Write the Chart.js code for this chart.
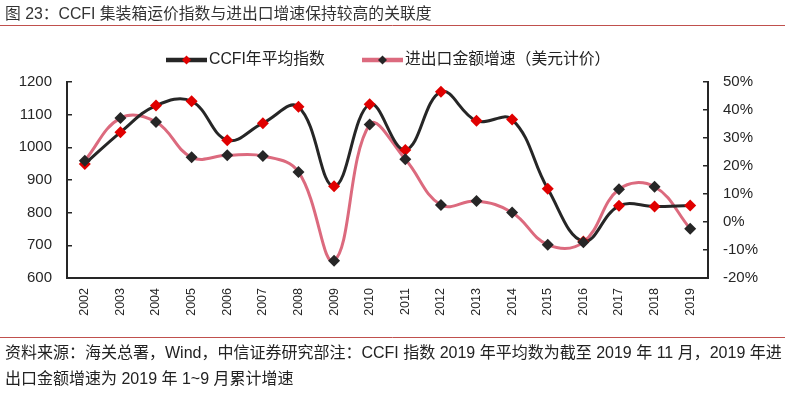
<!DOCTYPE html>
<html>
<head>
<meta charset="utf-8">
<script src="https://cdn.jsdelivr.net/npm/chart.js@4.4.1/dist/chart.umd.min.js"></script>
<style>
  html, body { margin: 0; padding: 0; background: #fff; }
  #wrap { position: relative; width: 803px; height: 393px; }
</style>
</head>
<body>
<div id="wrap"><canvas id="ccfi_chart" width="803" height="393"></canvas></div>
<script>
// chart values
const years = ['2002', '2003', '2004', '2005', '2006', '2007', '2008', '2009', '2010',
               '2011', '2012', '2013', '2014', '2015', '2016', '2017', '2018', '2019'];
const ccfiAvg = [949, 1046, 1128, 1141, 1022, 1074, 1124, 881, 1132,
                 992, 1170, 1081, 1085, 873, 712, 821, 819, 822];
const tradeGrowth = [21.9, 37.1, 35.7, 23.1, 23.8, 23.6, 17.9, -13.8, 34.8,
                     22.4, 6.1, 7.5, 3.4, -8.1, -7.2, 11.7, 12.6, -2.4];
const leftTicks = [600, 700, 800, 900, 1000, 1100, 1200];
const rightTicks = [-20, -10, 0, 10, 20, 30, 40, 50];

const titleText = '图 23：CCFI 集装箱运价指数与进出口增速保持较高的关联度';
const legendNames = ['CCFI年平均指数', '进出口金额增速（美元计价）'];
const noteLines = [
    '资料来源：海关总署，Wind，中信证券研究部注：CCFI 指数 2019 年平均数为截至 2019 年 11 月，2019 年进',
    '出口金额增速为 2019 年 1~9 月累计增速'
];

const DARK = '#262626';
const RED = '#e00000';
const PINK = '#dc6a7e';
const RULE = '#c0504d';
const FONT = '"Liberation Sans", Arial, "Noto Sans CJK SC", sans-serif';

// title, rules, legend and footnote
const pagePlugin = {
    id: 'pageDecor',
    beforeDraw(chart) {
        const ctx = chart.ctx;
        ctx.save();
        ctx.fillStyle = '#fff';
        ctx.fillRect(0, 0, chart.width, chart.height);
        ctx.restore();
    },
    afterDraw(chart) {
        const ctx = chart.ctx;
        ctx.save();
        ctx.fillStyle = '#333';
        ctx.textBaseline = 'middle';
        ctx.font = '15.8px ' + FONT;
        ctx.fillText(titleText, 5, 15);

        ctx.strokeStyle = RULE;
        ctx.lineWidth = 1;
        ctx.beginPath();
        ctx.moveTo(0, 25.5); ctx.lineTo(785, 25.5);
        ctx.moveTo(0, 337.5); ctx.lineTo(785, 337.5);
        ctx.stroke();

        // legend
        const items = [
            { x0: 166, x1: 207, line: DARK, dot: RED, text: legendNames[0] },
            { x0: 362, x1: 403, line: PINK, dot: DARK, text: legendNames[1] }
        ];
        items.forEach(it => {
            ctx.strokeStyle = it.line;
            ctx.lineWidth = 4.5;
            ctx.beginPath();
            ctx.moveTo(it.x0, 60); ctx.lineTo(it.x1, 60);
            ctx.stroke();
            const cx = (it.x0 + it.x1) / 2, r = 4.5;
            ctx.fillStyle = it.dot;
            ctx.beginPath();
            ctx.moveTo(cx, 60 - r); ctx.lineTo(cx + r, 60);
            ctx.lineTo(cx, 60 + r); ctx.lineTo(cx - r, 60);
            ctx.closePath();
            ctx.fill();
            ctx.fillStyle = '#222';
            ctx.font = '15.8px ' + FONT;
            ctx.fillText(it.text, it.x1 + 2, 60);
        });

        ctx.fillStyle = '#222';
        ctx.font = '16px ' + FONT;
        ctx.fillText(noteLines[0], 5, 354, 780);
        ctx.fillText(noteLines[1], 5, 380);
        ctx.restore();
    }
};

const ctxChart = document.getElementById('ccfi_chart').getContext('2d');

new Chart(ctxChart, {
    type: 'line',
    data: {
        labels: years,
        datasets: [
            {
                label: legendNames[1],
                data: tradeGrowth,
                yAxisID: 'y1',
                borderColor: PINK,
                borderWidth: 3,
                tension: 0.4,
                pointRadius: 0,
                order: 3
            },
            {
                label: legendNames[0],
                data: ccfiAvg,
                yAxisID: 'y',
                borderColor: DARK,
                borderWidth: 3,
                tension: 0.4,
                pointStyle: 'rectRot',
                pointRadius: 6,
                pointBackgroundColor: RED,
                pointBorderColor: RED,
                pointBorderWidth: 0,
                order: 2
            },
            {
                label: legendNames[1] + ' 点',
                data: tradeGrowth,
                yAxisID: 'y1',
                showLine: false,
                pointStyle: 'rectRot',
                pointRadius: 6,
                pointBackgroundColor: DARK,
                pointBorderColor: DARK,
                pointBorderWidth: 0,
                order: 1
            }
        ]
    },
    options: {
        responsive: false,
        animation: false,
        devicePixelRatio: 1,
        layout: { padding: { top: 82, left: 0, right: 0, bottom: 0 } },
        plugins: {
            legend: { display: false },
            tooltip: { enabled: false }
        },
        scales: {
            x: {
                offset: true,
                grid: { display: false },
                border: { color: DARK, width: 2 },
                ticks: {
                    color: DARK,
                    font: { family: FONT, size: 12.5 },
                    minRotation: 90,
                    maxRotation: 90,
                    padding: 2,
                    autoSkip: false
                },
                afterFit(scale) { scale.height = 115; }
            },
            y: {
                position: 'left',
                min: 600,
                max: 1200,
                grid: { drawOnChartArea: false, tickLength: -5, color: DARK, lineWidth: 1.5 },
                border: { color: DARK, width: 2 },
                ticks: {
                    stepSize: 100,
                    color: DARK,
                    padding: 20,
                    font: { family: FONT, size: 15 },
                    callback: v => String(v)
                },
                afterBuildTicks(scale) { scale.ticks = leftTicks.map(v => ({ value: v })); },
                afterFit(scale) { scale.width = 67; }
            },
            y1: {
                position: 'right',
                min: -20,
                max: 50,
                grid: { drawOnChartArea: false, tickLength: -5, color: DARK, lineWidth: 1.5 },
                border: { color: DARK, width: 2 },
                ticks: {
                    stepSize: 10,
                    color: DARK,
                    padding: 20,
                    font: { family: FONT, size: 15 },
                    callback: v => v + '%'
                },
                afterBuildTicks(scale) { scale.ticks = rightTicks.map(v => ({ value: v })); },
                afterFit(scale) { scale.width = 95; }
            }
        }
    },
    plugins: [pagePlugin]
});
</script>
</body>
</html>
